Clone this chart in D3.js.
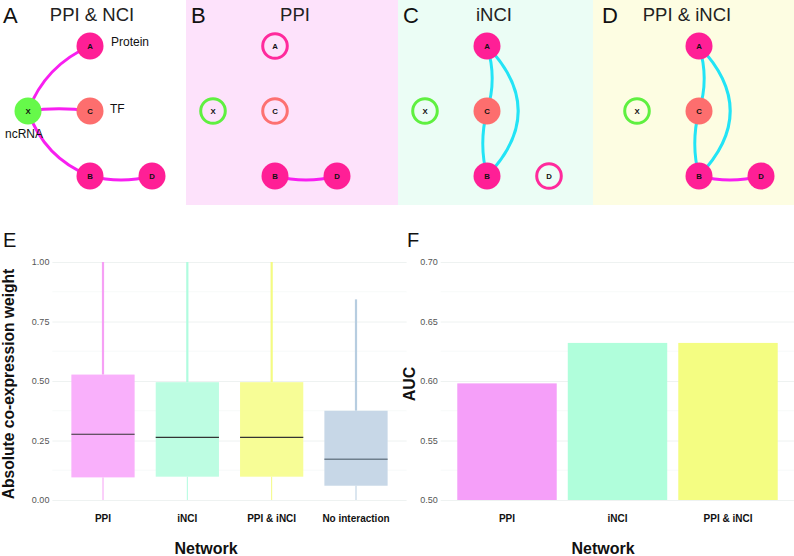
<!DOCTYPE html>
<html>
<head>
<meta charset="utf-8">
<script src="https://cdn.jsdelivr.net/npm/d3@7"></script>
<style>
  html, body { margin: 0; padding: 0; background: #fff; }
  svg { display: block; font-family: "Liberation Sans", Arial, Helvetica, sans-serif; }
</style>
</head>
<body>
<svg id="chart" width="794" height="556"></svg>
<script>
// ---------------- DATA ----------------
// Network diagrams
const nodeIds = ["X", "A", "C", "B", "D"];
const nodeTypes = ["ncRNA", "Protein", "TF", "Protein", "Protein"];
const nodeCols = [0, 1, 1, 1, 2];   // layout grid column
const nodeRows = [1, 0, 1, 2, 2];   // layout grid row
const panelLetters = ["A", "B", "C", "D"];
const panelTitles = ["PPI & NCI", "PPI", "iNCI", "PPI & iNCI"];
// which nodes are filled (true) or outlined (false) in each panel
const panelFilled = [
  [true, true, true, true, true],
  [false, false, false, true, true],
  [false, true, true, true, false],
  [false, true, true, true, true]
];
// edges per panel: [from, to, kind, bend]
const panelEdges = [
  [["X", "A", "ppi", -0.21], ["X", "C", "ppi", -0.07], ["X", "B", "ppi", 0.23], ["B", "D", "ppi", 0.13]],
  [["B", "D", "ppi", 0.13]],
  [["A", "C", "nci", -0.16], ["C", "B", "nci", 0.13], ["A", "B", "nci", -0.48]],
  [["A", "C", "nci", -0.16], ["C", "B", "nci", 0.13], ["A", "B", "nci", -0.48], ["B", "D", "ppi", 0.13]]
];
const typeLabels = ["Protein", "TF", "ncRNA"];

// Panel E: boxplot
const boxCategories = ["PPI", "iNCI", "PPI & iNCI", "No interaction"];
const boxLower = [0.0, 0.0, 0.0, 0.0];
const boxQ1 = [0.095, 0.098, 0.098, 0.060];
const boxMedian = [0.276, 0.263, 0.263, 0.171];
const boxQ3 = [0.527, 0.495, 0.495, 0.375];
const boxUpper = [1.0, 1.0, 1.0, 0.843];
const boxTicks = [0.00, 0.25, 0.50, 0.75, 1.00];

// Panel F: AUC bars
const aucCategories = ["PPI", "iNCI", "PPI & iNCI"];
const aucValues = [0.598, 0.632, 0.632];
const aucTicks = [0.50, 0.55, 0.60, 0.65, 0.70];

// ---------------- STYLE ----------------
const typeFill = { Protein: "#ff1f96", TF: "#fd6e6e", ncRNA: "#66f94a" };
const typeRing = { Protein: "#ff2a9c", TF: "#fd7171", ncRNA: "#5ff040" };
const edgeColor = { ppi: "#f81ff0", nci: "#22e4f6" };
const panelBg = [null, "#fde2fb", "#ebfdf5", "#fdfde2"];
const panelX = [0, 185, 397, 609];
const bgRanges = [null, [186, 398], [398, 593], [593, 794]];
const titleCx = [92, 295, 494, 687];
const letterX = [3, 191, 403, 602];

const boxFill = ["#f9b0fb", "#bdfde2", "#f7fd96", "#c7d7e7"];
const whiskerCol = ["#f6a0f5", "#b0fcdf", "#f4fb82", "#b7cde0"];
const medianCol = ["#333", "#333", "#333", "#6f7f8d"];
const barFill = ["#f59ff9", "#b0fedb", "#f4fd82"];

const svg = d3.select("#chart");

// ---------------- NETWORK PANELS ----------------
const colScale = d3.scaleLinear().domain([0, 2]).range([28, 152]);
const rowScale = d3.scaleLinear().domain([0, 2]).range([46, 176]);

panelLetters.forEach((letter, p) => {
  if (panelBg[p]) {
    svg.append("rect").attr("x", bgRanges[p][0]).attr("y", 0)
      .attr("width", bgRanges[p][1] - bgRanges[p][0]).attr("height", 205)
      .attr("fill", panelBg[p]);
  }
});

panelLetters.forEach((letter, p) => {
  const g = svg.append("g");
  const ox = panelX[p];
  const pos = {};
  nodeIds.forEach((id, i) => { pos[id] = [ox + colScale(nodeCols[i]), rowScale(nodeRows[i])]; });

  g.append("text").attr("x", letterX[p]).attr("y", 23).attr("font-size", 22)
    .attr("fill", "#111").text(letter);
  g.append("text").attr("x", titleCx[p]).attr("y", 21).attr("font-size", 18.5)
    .attr("text-anchor", "middle").attr("fill", "#222").text(panelTitles[p]);

  // edges
  panelEdges[p].forEach(([a, b, kind, bend]) => {
    const [x1, y1] = pos[a], [x2, y2] = pos[b];
    const dx = x2 - x1, dy = y2 - y1, len = Math.hypot(dx, dy);
    const mx = (x1 + x2) / 2, my = (y1 + y2) / 2;
    const cx = mx + (-dy / len) * bend * len, cy = my + (dx / len) * bend * len;
    const path = d3.path();
    path.moveTo(x1, y1);
    path.quadraticCurveTo(cx, cy, x2, y2);
    g.append("path").attr("d", path.toString()).attr("fill", "none")
      .attr("stroke", edgeColor[kind]).attr("stroke-width", 3);
  });

  // nodes
  nodeIds.forEach((id, i) => {
    const [x, y] = pos[id];
    const t = nodeTypes[i];
    if (panelFilled[p][i]) {
      g.append("circle").attr("cx", x).attr("cy", y).attr("r", 13.5).attr("fill", typeFill[t]);
    } else {
      g.append("circle").attr("cx", x).attr("cy", y).attr("r", 12.3)
        .attr("fill", "none").attr("stroke", typeRing[t]).attr("stroke-width", 3);
    }
    g.append("text").attr("x", x).attr("y", y + 2.7).attr("text-anchor", "middle")
      .attr("font-size", 7.8).attr("font-weight", "bold").attr("fill", "#111").text(id);
  });

  if (p === 0) {
    g.append("text").attr("x", 111).attr("y", 46).attr("font-size", 12).attr("fill", "#111").text(typeLabels[0]);
    g.append("text").attr("x", 110).attr("y", 113).attr("font-size", 12).attr("fill", "#111").text(typeLabels[1]);
    g.append("text").attr("x", 5).attr("y", 138).attr("font-size", 12).attr("fill", "#111").text(typeLabels[2]);
  }
});

// ---------------- PANEL E: BOXPLOT ----------------
(function () {
  const left = 52.4, right = 406.6;
  const y = d3.scaleLinear().domain([0, 1]).range([500, 262]);
  const x = d3.scalePoint().domain(boxCategories).range([left, right]).padding(0.6);
  const bw = x.step() * 0.75;
  const g = svg.append("g");

  // minor grid
  const minor = d3.range(0.125, 1, 0.25);
  g.selectAll(".mn").data(minor).join("line")
    .attr("x1", left).attr("x2", right).attr("y1", d => y(d)).attr("y2", d => y(d))
    .attr("stroke", "#f2f6f5").attr("stroke-width", 0.6);
  // major grid via axis
  const ax = d3.axisLeft(y).tickValues(boxTicks).tickFormat(d3.format(".2f")).tickSize(-(right - left)).tickPadding(3);
  const axg = g.append("g").attr("transform", `translate(${left},0)`).call(ax);
  axg.select(".domain").remove();
  axg.selectAll(".tick line").attr("stroke", "#eaefee").attr("stroke-width", 0.8);
  axg.selectAll(".tick text").attr("font-size", 9).attr("fill", "#555")
    .attr("font-family", "Liberation Sans, Arial, sans-serif");

  boxCategories.forEach((c, i) => {
    const cx = x(c);
    g.append("line").attr("x1", cx).attr("x2", cx).attr("y1", y(boxQ3[i])).attr("y2", y(boxUpper[i]))
      .attr("stroke", whiskerCol[i]).attr("stroke-width", 2.2);
    g.append("line").attr("x1", cx).attr("x2", cx).attr("y1", y(boxQ1[i])).attr("y2", y(boxLower[i]))
      .attr("stroke", whiskerCol[i]).attr("stroke-width", 1);
    g.append("rect").attr("x", cx - bw / 2).attr("width", bw)
      .attr("y", y(boxQ3[i])).attr("height", y(boxQ1[i]) - y(boxQ3[i]))
      .attr("fill", boxFill[i]);
    g.append("line").attr("x1", cx - bw / 2).attr("x2", cx + bw / 2)
      .attr("y1", y(boxMedian[i])).attr("y2", y(boxMedian[i]))
      .attr("stroke", medianCol[i]).attr("stroke-width", i === 3 ? 1.6 : 1.1);
    g.append("text").attr("x", cx).attr("y", 522).attr("text-anchor", "middle")
      .attr("font-size", 10).attr("font-weight", "bold").attr("fill", "#111").text(c);
  });

  g.append("text").attr("x", 206).attr("y", 554).attr("text-anchor", "middle")
    .attr("font-size", 16).attr("font-weight", "bold").attr("fill", "#111").text("Network");
  g.append("text").attr("transform", "translate(13.5,384) rotate(-90)").attr("text-anchor", "middle")
    .attr("font-size", 15.6).attr("font-weight", "bold").attr("fill", "#111").text("Absolute co-expression weight");
  g.append("text").attr("x", 3).attr("y", 247).attr("font-size", 20).attr("fill", "#111").text("E");
})();

// ---------------- PANEL F: AUC BARS ----------------
(function () {
  const left = 440.7, right = 794.3;
  const y = d3.scaleLinear().domain([0.5, 0.7]).range([500, 262]);
  const x = d3.scalePoint().domain(aucCategories).range([left, right]).padding(0.6);
  const bw = x.step() * 0.9;
  const g = svg.append("g");

  const minor = d3.range(0.525, 0.7, 0.05);
  g.selectAll(".mn").data(minor).join("line")
    .attr("x1", left).attr("x2", right).attr("y1", d => y(d)).attr("y2", d => y(d))
    .attr("stroke", "#f2f6f5").attr("stroke-width", 0.6);
  const ax = d3.axisLeft(y).tickValues(aucTicks).tickFormat(d3.format(".2f")).tickSize(-(right - left)).tickPadding(3);
  const axg = g.append("g").attr("transform", `translate(${left},0)`).call(ax);
  axg.select(".domain").remove();
  axg.selectAll(".tick line").attr("stroke", "#eaefee").attr("stroke-width", 0.8);
  axg.selectAll(".tick text").attr("font-size", 9).attr("fill", "#555")
    .attr("font-family", "Liberation Sans, Arial, sans-serif");

  aucCategories.forEach((c, i) => {
    const cx = x(c);
    g.append("rect").attr("x", cx - bw / 2).attr("width", bw)
      .attr("y", y(aucValues[i])).attr("height", y(0.5) - y(aucValues[i]))
      .attr("fill", barFill[i]);
    g.append("text").attr("x", cx).attr("y", 522).attr("text-anchor", "middle")
      .attr("font-size", 10).attr("font-weight", "bold").attr("fill", "#111").text(c);
  });

  g.append("text").attr("x", 603).attr("y", 554).attr("text-anchor", "middle")
    .attr("font-size", 16).attr("font-weight", "bold").attr("fill", "#111").text("Network");
  g.append("text").attr("transform", "translate(415,384) rotate(-90)").attr("text-anchor", "middle")
    .attr("font-size", 16).attr("font-weight", "bold").attr("fill", "#111").text("AUC");
  g.append("text").attr("x", 407).attr("y", 247).attr("font-size", 20).attr("fill", "#111").text("F");
})();
</script>
</body>
</html>
